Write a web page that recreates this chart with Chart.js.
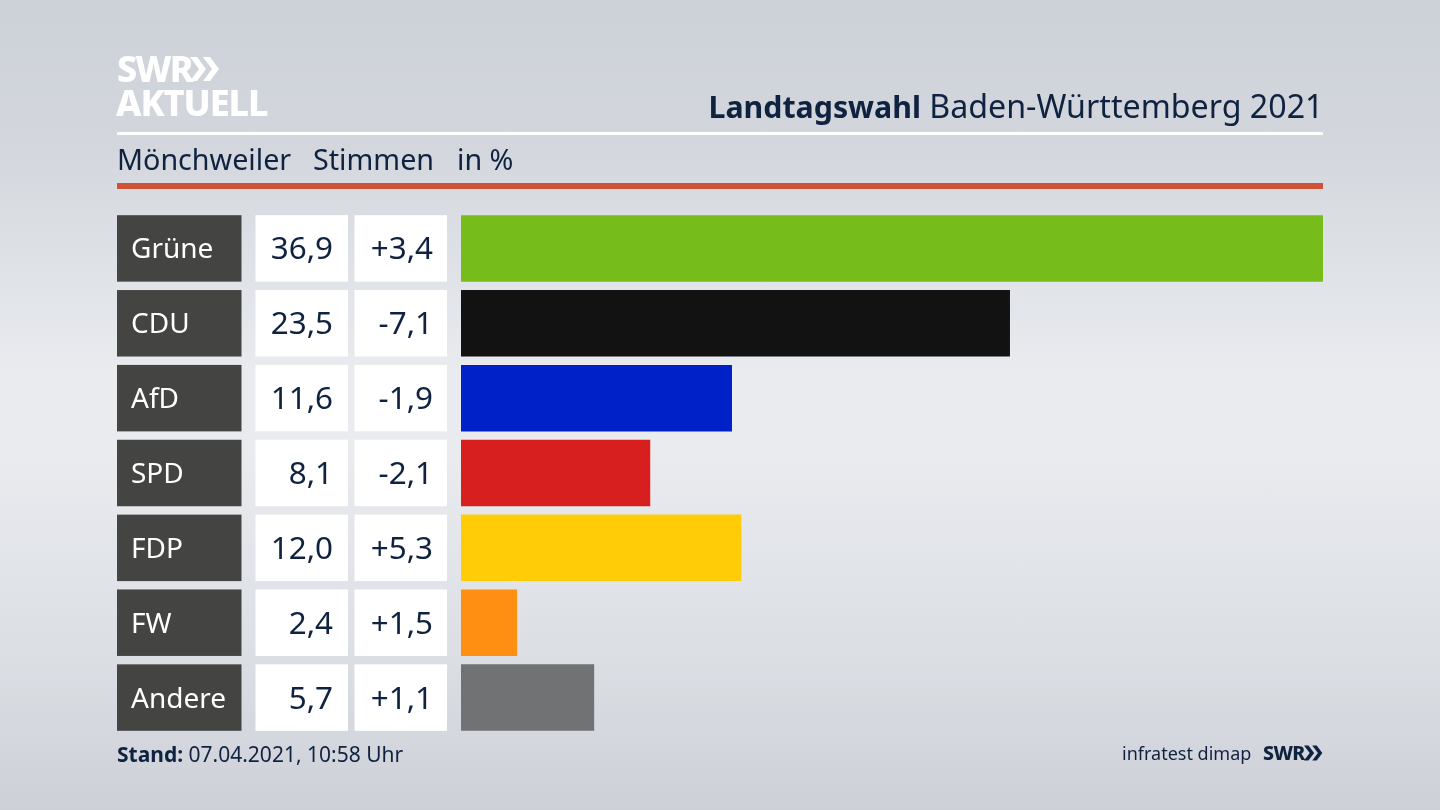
<!DOCTYPE html>
<html lang="de"><head><meta charset="utf-8">
<script src="https://cdn.jsdelivr.net/npm/chart.js@4/dist/chart.umd.min.js"></script>
<style>
html,body{margin:0;padding:0;width:1440px;height:810px;overflow:hidden}
body{position:relative;font-family:"Noto Sans",sans-serif;color:#0f2240;
background:linear-gradient(180deg,#cdd1d8 0%,#d3d7dd 18%,#e9ebef 46%,#e9ebef 56%,#dcdfe4 80%,#cdd0d7 100%)}
canvas{position:absolute;left:0;top:0}
.t{position:absolute;white-space:nowrap;line-height:1}
.rule{position:absolute;left:117px;width:1206px}
svg{position:absolute}
</style></head><body>
<canvas id="c" width="1440" height="810"></canvas>
<div class="t" style="left:117px;top:51px;font-size:36px;font-weight:800;color:#fff;letter-spacing:-1.8px">SWR</div>
<svg style="left:190px;top:57px" width="30" height="24" viewBox="0 0 30 24"><path d="M0 0h7l9 12-9 12H0l9-12zM13 0h7l9 12-9 12h-7l9-12z" fill="#fff"/></svg>
<div class="t" style="left:116px;top:85px;font-size:36px;font-weight:800;color:#fff;letter-spacing:-1.1px">AKTUELL</div>
<div class="t" style="right:116.5px;top:90px;font-size:32.2px"><b style="font-size:30.3px">Landtagswahl</b> Baden-Württemberg 2021</div>
<div class="rule" style="top:132px;height:3px;background:#fff"></div>
<div class="t" style="left:117px;top:145px;font-size:28.7px">Mönchweiler</div>
<div class="t" style="left:313px;top:145px;font-size:28.7px">Stimmen</div>
<div class="t" style="left:457px;top:145px;font-size:28.7px">in %</div>
<div class="rule" style="top:183px;height:6px;background:#cf5238"></div>
<div class="t" style="left:117px;top:744px;font-size:21px"><b>Stand:</b> 07.04.2021, 10:58 Uhr</div>
<div class="t" style="left:1122px;top:744px;font-size:18px">infratest dimap</div>
<div class="t" style="left:1263px;top:743px;font-size:19.5px;font-weight:800;letter-spacing:-.6px">SWR</div>
<svg style="left:1304px;top:745px" width="19" height="16" viewBox="0 0 30 24"><path d="M0 0h7l9 12-9 12H0l9-12zM13 0h7l9 12-9 12h-7l9-12z" fill="#0f2240"/></svg>
<script>
const parties=["Grüne","CDU","AfD","SPD","FDP","FW","Andere"];
const shares=[36.9,23.5,11.6,8.1,12.0,2.4,5.7];
const changes=["+3,4","-7,1","-1,9","-2,1","+5,3","+1,5","+1,1"];
const shareLabels=["36,9","23,5","11,6","8,1","12,0","2,4","5,7"];
const colors=["#76bc1a","#121212","#0021c8","#d81f1f","#ffcc07","#ff8f12","#717274"];
const cells={id:"cells",beforeDraw(chart){
  const c=chart.ctx,m=chart.getDatasetMeta(0).data;
  c.save();
  m.forEach((b,i)=>{
    const top=b.y-b.height/2,h=b.height;
    c.fillStyle="#444442";c.fillRect(117,top,124.5,h);
    c.fillStyle="#fff";c.fillRect(255.5,top,92.5,h);c.fillRect(354.5,top,92.5,h);
    c.fillStyle="#0f2240";c.font='31.4px "Noto Sans"';c.textAlign="right";c.textBaseline="middle";
    c.fillText(shareLabels[i],333,b.y+2);
    c.fillText(changes[i],433,b.y+2);
  });
  c.restore();
}};
new Chart(document.getElementById("c"),{
  type:"bar",
  data:{labels:parties,datasets:[{data:shares,backgroundColor:colors,borderWidth:0,barPercentage:.888,categoryPercentage:1}]},
  options:{indexAxis:"y",responsive:false,animation:false,
    layout:{padding:{left:131,right:117,top:211,bottom:75}},
    plugins:{legend:{display:false},tooltip:{enabled:false}},
    scales:{
      x:{display:false,min:0,max:36.9},
      y:{border:{display:false},grid:{display:false},
        afterFit(s){s.width=330;},
        ticks:{crossAlign:"far",color:"#fff",padding:0,labelOffset:2,font:{family:"Noto Sans",size:28}}}
    }},
  plugins:[cells]
});
</script>
</body></html>
